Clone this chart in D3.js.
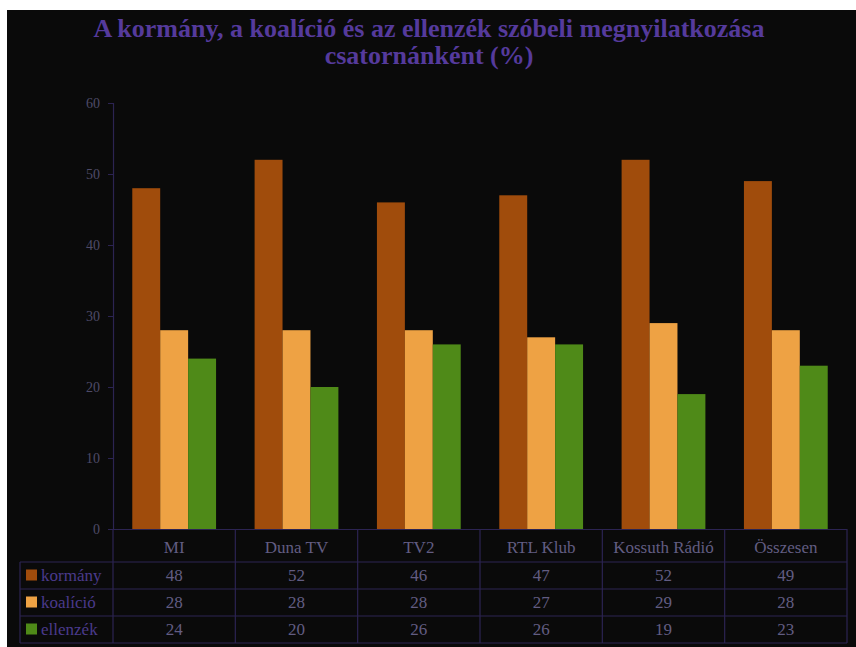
<!DOCTYPE html>
<html><head><meta charset="utf-8">
<script src="https://cdn.jsdelivr.net/npm/d3@7/dist/d3.min.js"></script>
<style>html,body{margin:0;padding:0;background:#fff;}svg{display:block}</style>
</head><body>
<svg id="chart" width="856" height="647"></svg>
<script>
const categories = ["MI", "Duna TV", "TV2", "RTL Klub", "Kossuth Rádió", "Összesen"];
const seriesNames = ["kormány", "koalíció", "ellenzék"];
const kormany = [48, 52, 46, 47, 52, 49];
const koalicio = [28, 28, 28, 27, 29, 28];
const ellenzek = [24, 20, 26, 26, 19, 23];
const yTicks = [0, 10, 20, 30, 40, 50, 60];
const titleLines = ["A kormány, a koalíció és az ellenzék szóbeli megnyilatkozása", "csatornánként (%)"];

(function () {
const seriesValues = [kormany, koalicio, ellenzek];
const colors = ["#a04c0c", "#eea244", "#4f8a18"];
const gridColor = "#2c2452";
const textColor = "#625d82";
const labelColor = "#4a3a8c";

const svg = d3.select("#chart");
svg.append("rect").attr("x", 7).attr("y", 10).attr("width", 849).attr("height", 637).attr("fill", "#0a0a0a");

const tg = svg.append("g").attr("font-family", "Liberation Serif, Times New Roman, serif")
  .attr("font-weight", "bold").attr("font-size", 26).attr("fill", "#553a9c").attr("text-anchor", "middle");
tg.selectAll("text").data(titleLines).join("text")
  .attr("x", 429).attr("y", (d, i) => 37 + i * 27).text(d => d);

const pLeft = 113, pRight = 847, pTop = 103, pBottom = 529;
const x0 = d3.scaleBand().domain(categories).range([pLeft, pRight]).padding(0);
const x1 = d3.scaleBand().domain(seriesNames).range([0, x0.bandwidth()]).paddingInner(0).paddingOuter(0.69);
const y = d3.scaleLinear().domain([0, 60]).range([pBottom, pTop]);

const yAxis = d3.axisLeft(y).tickValues(yTicks).tickSize(5).tickPadding(8).tickFormat(d3.format("d"));
const ya = svg.append("g").attr("transform", `translate(${pLeft},0)`).call(yAxis);
ya.select(".domain").attr("stroke", gridColor).attr("stroke-width", 1.2);
ya.selectAll(".tick line").attr("stroke", gridColor);
ya.selectAll(".tick text").attr("fill", "#4e4a68").attr("font-family", "Liberation Serif, serif").attr("font-size", 14);

const groups = svg.append("g").selectAll("g").data(categories).join("g")
  .attr("transform", d => `translate(${x0(d)},0)`);
groups.selectAll("rect").data((c, ci) => seriesNames.map((s, si) => ({s, si, v: seriesValues[si][ci]})))
  .join("rect")
  .attr("x", d => x1(d.s)).attr("width", x1.bandwidth())
  .attr("y", d => y(d.v)).attr("height", d => y(0) - y(d.v))
  .attr("fill", d => colors[d.si]);

svg.append("line").attr("x1", pLeft - 5).attr("x2", pRight).attr("y1", pBottom + 0.5).attr("y2", pBottom + 0.5)
  .attr("stroke", gridColor).attr("stroke-width", 1.2);

const headerBottom = 562, rowH = 27, tableLeft = 20;
const rowYs = seriesNames.map((s, i) => headerBottom + i * rowH);
const tbl = svg.append("g").attr("stroke", gridColor).attr("stroke-width", 1.2);
[headerBottom, ...rowYs.map(v => v + rowH)].forEach(yy => {
  tbl.append("line").attr("x1", tableLeft).attr("x2", pRight).attr("y1", yy).attr("y2", yy);
});
categories.forEach(c => {
  tbl.append("line").attr("x1", x0(c)).attr("x2", x0(c)).attr("y1", pBottom).attr("y2", headerBottom + 3 * rowH);
});
tbl.append("line").attr("x1", pRight).attr("x2", pRight).attr("y1", pBottom).attr("y2", headerBottom + 3 * rowH);
tbl.append("line").attr("x1", tableLeft).attr("x2", tableLeft).attr("y1", headerBottom).attr("y2", headerBottom + 3 * rowH);

const ff = "Liberation Serif, Times New Roman, serif";
svg.append("g").selectAll("text").data(categories).join("text")
  .attr("x", d => x0(d) + x0.bandwidth() / 2).attr("y", 553)
  .attr("text-anchor", "middle").attr("font-family", ff).attr("font-size", 17).attr("fill", textColor)
  .text(d => d);

seriesNames.forEach((s, si) => {
  const ry = rowYs[si];
  svg.append("rect").attr("x", 26).attr("y", ry + rowH / 2 - 6).attr("width", 11).attr("height", 11).attr("fill", colors[si]);
  svg.append("text").attr("x", 41).attr("y", ry + rowH / 2 + 5).attr("font-family", ff).attr("font-size", 17)
    .attr("fill", labelColor).text(s);
  svg.append("g").selectAll("text").data(seriesValues[si]).join("text")
    .attr("x", (d, i) => x0(categories[i]) + x0.bandwidth() / 2).attr("y", ry + rowH / 2 + 5)
    .attr("text-anchor", "middle").attr("font-family", ff).attr("font-size", 17).attr("fill", textColor)
    .text(d => d);
});
})();
</script>
</body></html>
